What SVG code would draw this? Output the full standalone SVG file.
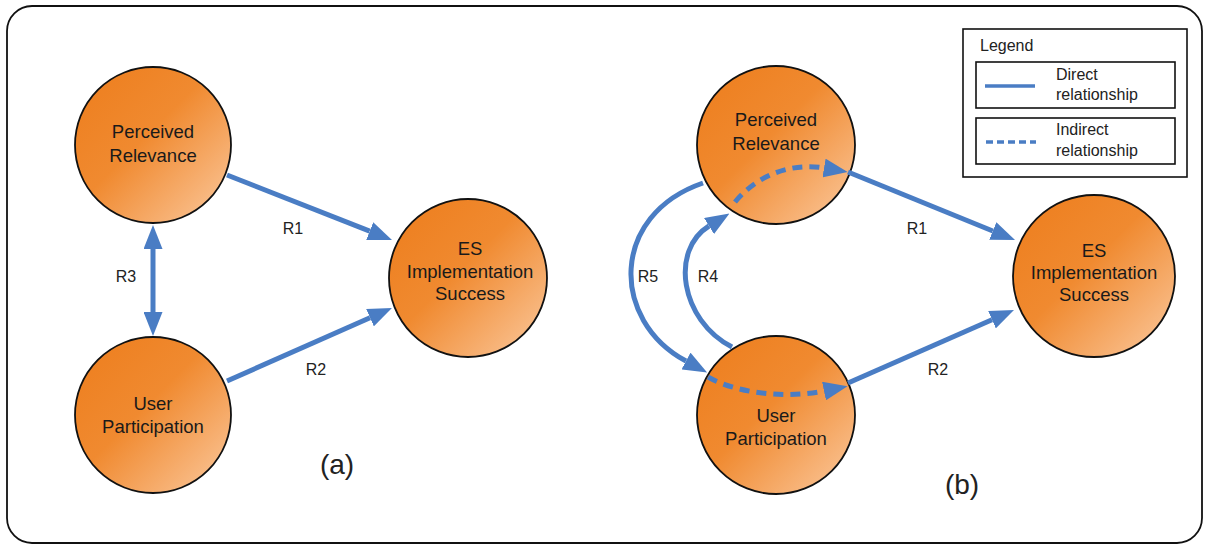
<svg xmlns="http://www.w3.org/2000/svg" width="1205" height="545" viewBox="0 0 1205 545">
<style>
.node{stroke:#111;stroke-width:1.8}
.nt{font-family:"Liberation Sans",Arial,sans-serif;font-size:18.5px;fill:#1a1a1a;text-anchor:middle}
.lbl{font-family:"Liberation Sans",Arial,sans-serif;font-size:16px;fill:#222;text-anchor:middle}
.big{font-family:"Liberation Sans",Arial,sans-serif;font-size:28px;fill:#222;text-anchor:middle}
.lg{font-family:"Liberation Sans",Arial,sans-serif;font-size:16px;fill:#222}
.c{fill:none;stroke:#4a7dc4;stroke-width:5}
.d{fill:none;stroke:#4a7dc4;stroke-width:5;stroke-dasharray:10 7}
.box{fill:none;stroke:#111;stroke-width:1.6}
</style>
<defs>
<linearGradient id="og" x1="0" y1="0" x2="1" y2="1">
<stop offset="0" stop-color="#ed7d1c"/>
<stop offset="0.45" stop-color="#f08a30"/>
<stop offset="1" stop-color="#fbcaa0"/>
</linearGradient>
<marker id="ah" markerUnits="userSpaceOnUse" markerWidth="24" markerHeight="19" refX="0" refY="9.5" orient="auto-start-reverse">
<path d="M0,0 L24,9.5 L0,19 z" fill="#4a7dc4"/>
</marker>
</defs>
<rect x="7" y="6" width="1195" height="537" rx="25" ry="25" fill="#fff" stroke="#111" stroke-width="1.8"/>

<g id="a-perceived">
<circle class="node" cx="153" cy="145" r="78" fill="url(#og)"/>
<text class="nt" x="153" y="138">Perceived</text>
<text class="nt" x="153" y="162">Relevance</text>
</g>
<g id="a-user">
<circle class="node" cx="153" cy="415" r="78" fill="url(#og)"/>
<text class="nt" x="153" y="410">User</text>
<text class="nt" x="153" y="433">Participation</text>
</g>
<g id="a-es">
<circle class="node" cx="468" cy="278" r="79" fill="url(#og)"/>
<text class="nt" x="470" y="255">ES</text>
<text class="nt" x="470" y="278">Implementation</text>
<text class="nt" x="470" y="300">Success</text>
</g>
<g id="b-perceived">
<circle class="node" cx="776" cy="145" r="79" fill="url(#og)"/>
<text class="nt" x="776" y="126">Perceived</text>
<text class="nt" x="776" y="150">Relevance</text>
</g>
<g id="b-user">
<circle class="node" cx="776" cy="415" r="79" fill="url(#og)"/>
<text class="nt" x="776" y="422">User</text>
<text class="nt" x="776" y="445">Participation</text>
</g>
<g id="b-es">
<circle class="node" cx="1094" cy="276" r="81" fill="url(#og)"/>
<text class="nt" x="1094" y="257">ES</text>
<text class="nt" x="1094" y="279">Implementation</text>
<text class="nt" x="1094" y="301">Success</text>
</g>

<g id="connectors">
<path class="c" d="M227,175 L369.7,231.2" marker-end="url(#ah)"/>
<path class="c" d="M227,381 L370,317.7" marker-end="url(#ah)"/>
<path class="c" d="M153,249 L153,312" marker-start="url(#ah)" marker-end="url(#ah)"/>
<path class="c" d="M848,172 L992.8,231" marker-end="url(#ah)"/>
<path class="c" d="M848,383 L992,319.7" marker-end="url(#ah)"/>
<path class="c" d="M703,183 C610,215 610,320 686,361" marker-end="url(#ah)"/>
<path class="c" d="M732,347 C680,320 670,250 709,226" marker-end="url(#ah)"/>
<path class="d" d="M735,202 C760,172 795,163 824,168" marker-end="url(#ah)"/>
<path class="d" d="M708,377 C740,395 790,398 824,391" marker-end="url(#ah)"/>
<text class="lbl" x="293" y="234">R1</text>
<text class="lbl" x="316" y="375">R2</text>
<text class="lbl" x="126" y="282">R3</text>
<text class="lbl" x="708" y="282">R4</text>
<text class="lbl" x="648" y="282">R5</text>
<text class="lbl" x="917" y="234">R1</text>
<text class="lbl" x="938" y="375">R2</text>
</g>

<text class="big" x="337" y="474">(a)</text>
<text class="big" x="962" y="494">(b)</text>

<g id="legend">
<rect class="box" x="963" y="29" width="224" height="148" fill="#fff"/>
<text class="lg" x="980" y="51">Legend</text>
<rect class="box" x="976" y="62" width="199" height="46"/>
<line x1="985" y1="86" x2="1035" y2="86" stroke="#4a7dc4" stroke-width="3.5"/>
<text class="lg" x="1056" y="80">Direct</text>
<text class="lg" x="1056" y="100">relationship</text>
<rect class="box" x="976" y="118" width="199" height="46"/>
<line x1="986" y1="142" x2="1036" y2="142" stroke="#4a7dc4" stroke-width="3.5" stroke-dasharray="7 4"/>
<text class="lg" x="1056" y="135">Indirect</text>
<text class="lg" x="1056" y="156">relationship</text>
</g>
</svg>
